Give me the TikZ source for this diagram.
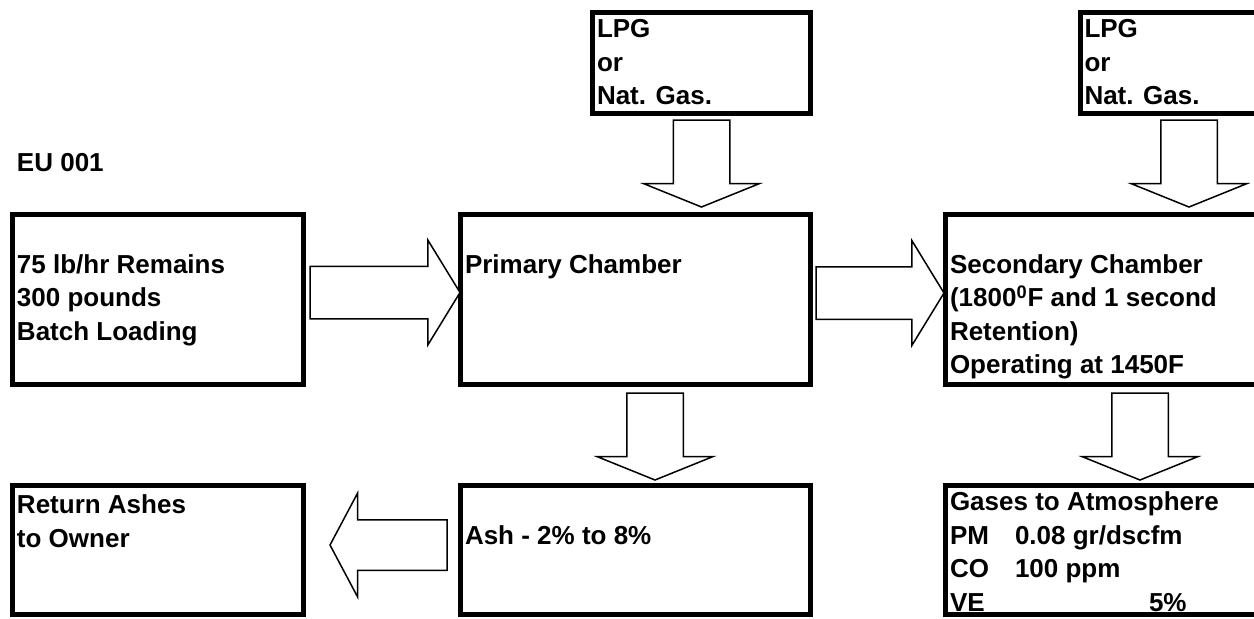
\documentclass[tikz,border=0pt]{standalone}
\usepackage{fontspec}
\setmainfont{Liberation Sans}
\usetikzlibrary{calc,shapes.arrows}

\tikzset{
  box/.style={draw, line width=2.5pt, inner sep=0pt, outer sep=0pt},
  txt/.style={anchor=north west, inner sep=0pt, outer sep=0pt, align=left,
    font=\bfseries\fontsize{13}{16.75}\selectfont},
  blk/.style={single arrow, draw, line width=0.75pt, fill=white, outer sep=0pt, anchor=tip},
  rarrow/.style={blk, inner sep=12.75pt, single arrow head extend=13pt, single arrow tip angle=117},
  darrow/.style={blk, shape border rotate=270, inner sep=13.75pt, single arrow head extend=14.75pt, single arrow tip angle=136},
  larrow/.style={blk, shape border rotate=180, inner sep=12.25pt, single arrow head extend=13.25pt, single arrow tip angle=124},
}

\begin{document}
\begin{tikzpicture}[x=1pt, y=-1pt]
  \useasboundingbox (0,0) rectangle (627,309);
  \clip (0,0) rectangle (627,309);

  % boxes
  \node[box, minimum width=145.5pt, minimum height=85pt] (load) at (79,149.75) {};
  \node[box, minimum width=175pt, minimum height=85pt] (prim) at (317.75,149.75) {};
  \node[box, minimum width=175pt, minimum height=85pt] (sec) at (560.25,149.75) {};
  \node[box, minimum width=109pt, minimum height=50.5pt] (fuela) at (350.75,31.5) {};
  \node[box, minimum width=109pt, minimum height=50.5pt] (fuelb) at (594.5,31.5) {};
  \node[box, minimum width=145.5pt, minimum height=64.5pt] (ret) at (79,275) {};
  \node[box, minimum width=175pt, minimum height=64.5pt] (ash) at (317.75,275) {};
  \node[box, minimum width=175pt, minimum height=64.5pt] (gas) at (560.25,275) {};

  % texts
  \node[txt] (eu) at (8.5,74.25) {\strut EU 001};
  \node[txt] (loadtxt) at ($(load.north west)+(2.25,1)$) {\strut\\75 lb/hr Remains\\300 pounds\\Batch Loading};
  \node[txt] (primtxt) at ($(prim.north west)+(2.25,1)$) {\strut\\Primary Chamber};
  \node[txt] (sectxt) at ($(sec.north west)+(2.25,1)$) {\strut\\Secondary Chamber\\(1800\textsuperscript{0}F and 1 second\\Retention)\\Operating at 1450F};
  \node[txt] (fuelatxt) at ($(fuela.north west)+(2.25,1)$) {\strut LPG\\or\\Nat. Gas.};
  \node[txt] (fuelbtxt) at ($(fuelb.north west)+(2.25,1)$) {\strut LPG\\or\\Nat. Gas.};
  \node[txt] (rettxt) at ($(ret.north west)+(2.25,2.5)$) {\strut Return Ashes\\to Owner};
  \node[txt] (ashtxt) at ($(ash.north west)+(2.25,1)$) {\strut\\Ash - 2\% to 8\%};
  \node[txt] (gastxt) at ($(gas.north west)+(2.25,1)$) {\strut Gases to Atmosphere\\
    \makebox[32.5pt][l]{PM}0.08 gr/dscfm\\
    \makebox[32.5pt][l]{CO}100 ppm\\
    \makebox[99.5pt][l]{VE}5\%};

  % block arrows
  \node[rarrow, minimum height=75pt] (feed) at ($(prim.west)+(-0.25,-3.5)$) {};
  \node[rarrow, minimum height=64pt] (hot) at ($(sec.west)+(-0.75,-3.25)$) {};
  \node[darrow, minimum height=43.5pt] (gasa) at ($(fuela |- prim.north)+(0,-3.75)$) {};
  \node[darrow, minimum height=43.5pt] (gasb) at ($(fuelb |- sec.north)+(0,-3.75)$) {};
  \node[darrow, minimum height=43.5pt] (ashout) at ($(ash.north)+(9.75,-2.75)$) {};
  \node[darrow, minimum height=43.5pt] (flue) at ($(gas.north)+(9.75,-2.75)$) {};
  \node[larrow, minimum height=58.5pt] (back) at ($(ret.east)+(13.25,-2.5)$) {};
\end{tikzpicture}
\end{document}
